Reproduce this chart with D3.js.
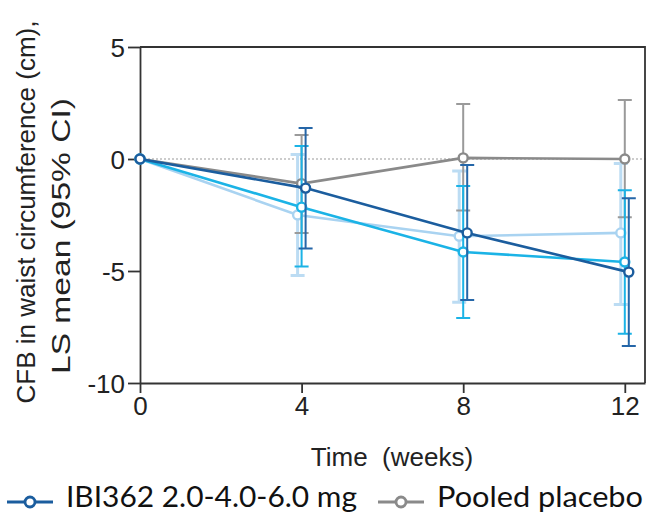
<!DOCTYPE html>
<html>
<head>
<meta charset="utf-8">
<script src="https://cdn.jsdelivr.net/npm/d3@7"></script>
<style>
  body { margin: 0; background: #fff; }
  svg { display: block; }
  .tick text { font-family: "Liberation Sans", Arial, sans-serif; font-size: 26px; fill: #222; }
</style>
</head>
<body>
<div id="chart-area"></div>
<script>
// data
const weeks = [0, 4, 8, 12];
const xTicks = [0, 4, 8, 12];
const yTicks = [5, 0, -5, -10];

const seriesNames = ["IBI362 low dose", "Pooled placebo", "IBI362 mid dose", "IBI362 2.0-4.0-6.0 mg"];

const lightMean = [0, -2.5, -3.45, -3.3];
const lightLow = [0, -5.2, -6.4, -6.5];
const lightHigh = [0, 0.2, -0.54, -0.2];

const placeboMean = [0, -1.1, 0.05, 0.0];
const placeboLow = [0, -3.3, -2.3, -2.6];
const placeboHigh = [0, 1.07, 2.46, 2.63];

const cyanMean = [0, -2.15, -4.15, -4.6];
const cyanLow = [0, -4.8, -7.1, -7.8];
const cyanHigh = [0, 0.58, -1.2, -1.4];

const darkMean = [0, -1.3, -3.3, -5.05];
const darkLow = [0, -4.0, -6.3, -8.35];
const darkHigh = [0, 1.38, -0.27, -1.75];

const legendNames = ["IBI362 2.0-4.0-6.0 mg", "Pooled placebo"];

const W = 648, H = 518;
const margin = { top: 47, right: 3, bottom: 135, left: 140 };
const width = W - margin.left - margin.right;
const height = H - margin.top - margin.bottom;

const styles = [
  { color: "#a9d3f1", bar: "#bcdcf3", dx: -4, barW: 3 },
  { color: "#8a8a8a", bar: "#9a9a9a", dx: 0, barW: 2 },
  { color: "#1bb3e6", bar: "#1bb3e6", dx: 0, barW: 2 },
  { color: "#1b5d9e", bar: "#2566a8", dx: 4, barW: 2 }
];

const series = [
  { mean: lightMean, low: lightLow, high: lightHigh },
  { mean: placeboMean, low: placeboLow, high: placeboHigh },
  { mean: cyanMean, low: cyanLow, high: cyanHigh },
  { mean: darkMean, low: darkLow, high: darkHigh }
].map((s, i) => ({
  name: seriesNames[i],
  style: styles[i],
  points: weeks.map((w, j) => ({ week: w, mean: s.mean[j], low: s.low[j], high: s.high[j] }))
}));

const svg = d3.select("#chart-area")
  .append("svg")
  .attr("width", W)
  .attr("height", H);

const g = svg.append("g")
  .attr("transform", `translate(${margin.left}, ${margin.top})`);

const x = d3.scaleLinear().domain([0, 12.5]).range([0, width]);
const y = d3.scaleLinear().domain([-10, 5]).range([height, 0]);

// zero reference line
g.append("line")
  .attr("x1", 0).attr("x2", width + 3)
  .attr("y1", y(0)).attr("y2", y(0))
  .attr("stroke", "#999")
  .attr("stroke-width", 1.2)
  .attr("stroke-dasharray", "2,2");

// frame (top and right)
g.append("path")
  .attr("d", `M0,0H${width}V${height}`)
  .attr("fill", "none")
  .attr("stroke", "#333")
  .attr("stroke-width", 1.8);

const xAxis = g.append("g")
  .attr("transform", `translate(0, ${height})`)
  .call(d3.axisBottom(x).tickValues(xTicks).tickSize(10).tickPadding(4).tickSizeOuter(0));

const yAxis = g.append("g")
  .call(d3.axisLeft(y).tickValues(yTicks).tickFormat(d => String(d))
    .tickSize(12).tickPadding(3).tickSizeOuter(0));

[xAxis, yAxis].forEach(a => {
  a.select(".domain").attr("stroke", "#333").attr("stroke-width", 1.8);
  a.selectAll(".tick line").attr("stroke", "#333").attr("stroke-width", 1.8);
});
yAxis.selectAll(".tick text").attr("dy", "0.36em");

// series
const line = d3.line()
  .x(d => x(d.week))
  .y(d => y(d.mean));

series.forEach(s => {
  const sg = g.append("g");
  const st = s.style;
  const pts = s.points.filter(d => d.week > 0);

  sg.selectAll(".bar")
    .data(pts)
    .enter()
    .append("path")
    .attr("d", d => {
      const cx = x(d.week) + st.dx;
      return `M${cx},${y(d.low)}V${y(d.high)}M${cx - 7},${y(d.low)}h14M${cx - 7},${y(d.high)}h14`;
    })
    .attr("fill", "none")
    .attr("stroke", st.bar)
    .attr("stroke-width", st.barW);

  sg.append("path")
    .datum(s.points)
    .attr("d", line.x(d => x(d.week) + (d.week > 0 ? st.dx : 0)))
    .attr("fill", "none")
    .attr("stroke", st.color)
    .attr("stroke-width", 2.6);

  sg.selectAll("circle")
    .data(s.points)
    .enter()
    .append("circle")
    .attr("cx", d => x(d.week) + (d.week > 0 ? st.dx : 0))
    .attr("cy", d => y(d.mean))
    .attr("r", 4.5)
    .attr("fill", "#fff")
    .attr("stroke", st.color)
    .attr("stroke-width", 2.4);
});

// axis titles
svg.append("text")
  .attr("x", 392)
  .attr("y", 466)
  .attr("text-anchor", "middle")
  .attr("font-family", "Liberation Sans, Arial, sans-serif")
  .attr("font-size", 26)
  .attr("fill", "#222")
  .attr("xml:space", "preserve")
  .text("Time  (weeks)");

const yTitle = svg.append("text")
  .attr("transform", "rotate(-90)")
  .attr("text-anchor", "middle")
  .attr("font-family", "Liberation Sans, Arial, sans-serif")
  .attr("font-size", 26)
  .attr("fill", "#222");
yTitle.append("tspan").attr("x", -212).attr("y", 35).text("CFB in waist circumference (cm),");
yTitle.append("tspan").attr("x", -236).attr("y", 70)
  .attr("textLength", 276).attr("lengthAdjust", "spacingAndGlyphs")
  .text("LS mean (95% CI)");

// legend
const legendStyles = [styles[3], styles[1]];
const legendX = [7, 378];
const legendLen = [291, 206];
legendNames.forEach((name, i) => {
  const lg = svg.append("g").attr("transform", `translate(${legendX[i]}, 502)`);
  lg.append("line")
    .attr("x1", 0).attr("x2", 46)
    .attr("stroke", legendStyles[i].color)
    .attr("stroke-width", 3);
  lg.append("circle")
    .attr("cx", 23).attr("r", 5)
    .attr("fill", "#fff")
    .attr("stroke", legendStyles[i].color)
    .attr("stroke-width", 2.8);
  lg.append("text")
    .attr("x", 59)
    .attr("y", 5)
    .attr("textLength", legendLen[i])
    .attr("lengthAdjust", "spacingAndGlyphs")
    .attr("font-family", "Lato, 'Open Sans', sans-serif")
    .attr("font-size", 29)
    .attr("fill", "#111")
    .text(name);
});
</script>
</body>
</html>
